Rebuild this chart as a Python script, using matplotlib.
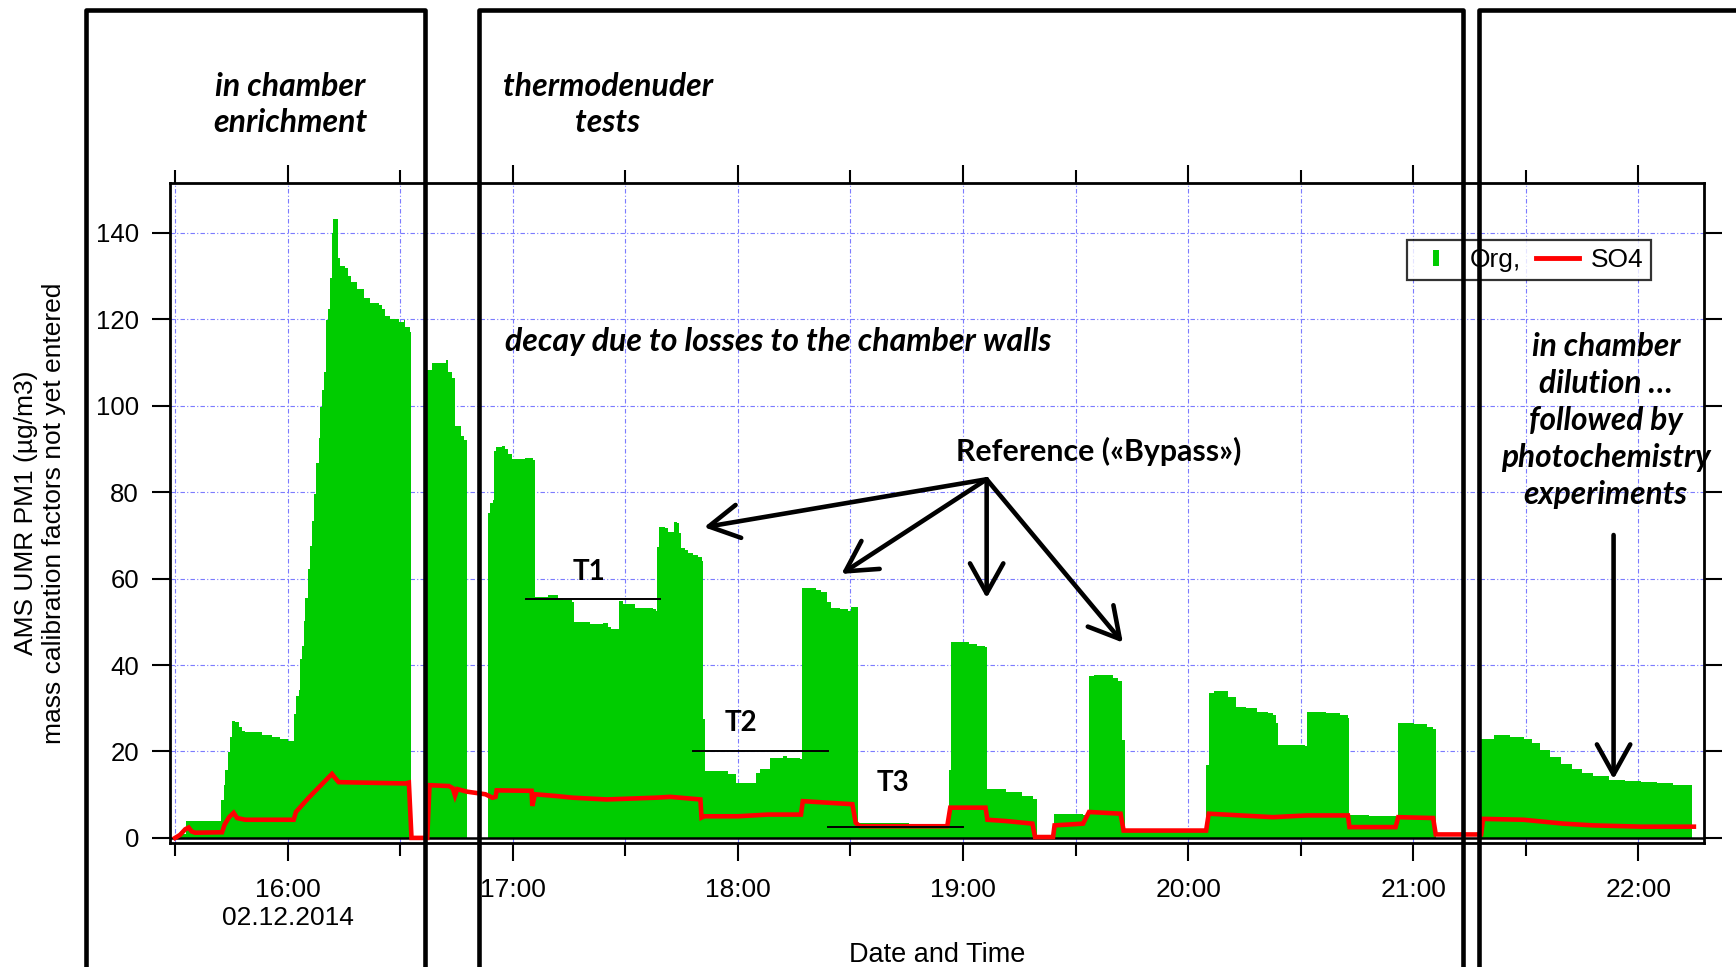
import matplotlib
matplotlib.use("Agg")
import matplotlib.pyplot as plt
from matplotlib.lines import Line2D
from matplotlib.patches import FancyArrowPatch, ArrowStyle
from matplotlib.ticker import FixedLocator, FixedFormatter, NullFormatter

# ---------------------------------------------------------------------------
# AMS UMR PM1 time series, 02.12.2014 (time = minutes after 15:00)
# ---------------------------------------------------------------------------
org_t = [31.0, 32.8, 42.3, 42.9, 43.4, 44.0, 44.5, 45.1, 46.0, 46.9, 47.8, 48.7,
         53.1, 55.8, 58.0, 60.2, 61.6, 62.2, 62.9, 63.4, 63.8, 64.3, 64.7, 65.4,
         65.9, 66.5, 67.1, 67.6, 68.3, 68.7, 69.1, 69.7, 70.2, 70.7, 71.2, 71.8,
         72.1, 73.3, 74.0, 75.4, 76.1, 76.8, 78.5, 80.4, 82.0, 84.3, 85.2, 86.0,
         87.4, 89.6, 90.9, 91.4, 92.7, 93.0,
         97.2, 98.5, 102.1, 102.8, 103.7, 104.7, 106.1, 107.0, 107.8,
         113.4, 114.0, 114.6, 115.0, 115.5, 117.1, 117.8, 118.8, 119.7, 122.8,
         123.3, 125.5, 125.8, 129.5, 132.1, 133.5, 135.9, 136.4, 140.6, 144.1,
         145.4, 146.3, 148.1, 148.3, 149.4, 152.5, 157.4, 158.3, 158.5, 159.0,
         160.5, 161.4, 162.9, 163.8, 164.2, 164.8, 165.8, 166.7, 168.0, 169.4,
         170.3, 170.8, 171.3, 177.4, 179.6, 184.7, 185.9, 188.5, 192.0, 193.0,
         196.6, 197.1, 200.7, 202.2, 203.7, 204.8, 207.3, 209.3, 210.1, 211.9,
         225.6, 235.8, 236.2, 236.7, 241.6, 243.7, 245.8, 246.5, 251.5, 255.8,
         258.6, 259.6, 264.3, 272.1, 273.6, 275.0, 277.8, 280.0, 281.4, 282.5,
         283.1, 304.8, 305.5, 307.0, 310.5, 312.7, 315.5, 318.3, 321.2, 322.6,
         323.3, 324.0, 331.1, 331.6, 336.8, 340.4, 342.5, 342.9, 348.2, 355.3,
         356.0, 360.3, 363.8, 365.3, 366.0, 378.1, 381.6, 385.9, 389.4, 391.6,
         393.7, 396.5, 399.4, 402.2, 405.1, 407.9, 412.2, 416.4, 420.7, 425.0,
         429.3, 434.2]
org_v = [0.8, 3.8, 8.8, 12.2, 15.6, 19.9, 23.3, 27.1, 26.8, 25.7, 24.7, 24.5,
         23.8, 23.3, 22.8, 22.5, 28.6, 32.9, 34.3, 41.5, 44.4, 50.2, 55.5, 62.2,
         67.5, 73.3, 79.5, 86.7, 92.5, 99.7, 103.6, 107.9, 119.9, 122.3, 129.5, 140.1,
         143.2, 134.3, 132.4, 131.9, 130.0, 128.6, 127.1, 124.9, 123.9, 123.3, 122.3, 120.9,
         120.1, 119.4, 119.9, 118.2, 117.0, 0.0,
         108.4, 110.0, 110.5, 107.9, 106.4, 95.4, 93.0, 92.2, 0.0,
         75.2, 77.5, 78.3, 89.5, 90.5, 90.7, 89.9, 88.8, 87.8, 87.6,
         88.0, 87.4, 55.8, 56.2, 55.4, 55.0, 54.7, 50.0, 49.6, 49.8,
         48.7, 48.4, 48.3, 54.8, 54.1, 53.1, 52.9, 52.6, 67.4, 71.9,
         71.7, 70.9, 73.0, 72.8, 70.5, 67.0, 66.7, 66.0, 65.5, 65.1,
         64.0, 27.5, 15.5, 14.9, 12.8, 15.1, 15.9, 18.6, 19.0, 18.5,
         18.2, 57.8, 57.4, 57.0, 54.7, 53.1, 52.9, 52.6, 53.5, 3.5,
         3.3, 3.1, 15.7, 45.3, 44.9, 44.3, 44.2, 11.4, 10.6, 9.8,
         9.1, 0.0, 5.6, 5.2, 37.4, 37.8, 37.6, 37.0, 36.4, 22.6,
         1.5, 16.8, 33.5, 33.9, 32.7, 30.4, 30.0, 29.2, 28.8, 28.4,
         26.5, 21.5, 21.2, 29.2, 28.8, 28.4, 27.7, 5.2, 5.0, 4.8,
         26.5, 26.4, 25.7, 25.3, 0.0, 23.0, 23.8, 23.4, 22.9, 21.9,
         20.3, 18.8, 17.2, 16.0, 15.0, 14.3, 13.3, 13.1, 12.9, 12.6,
         12.3, 0.0]

so4_t = [30.0, 31.3, 32.7, 33.6, 34.4, 35.3, 42.5, 43.2, 44.4, 45.6, 46.5, 48.7,
         61.6, 62.2, 65.6, 69.1, 71.8, 72.7, 73.6, 91.4, 92.3, 93.0, 97.2, 97.8,
         103.0, 104.0, 104.6, 105.2, 107.8, 112.7, 114.6, 115.4, 115.7, 125.0,
         125.2, 125.9, 131.5, 136.0, 145.0, 158.0, 162.0, 170.0, 170.3, 171.0,
         180.0, 188.0, 196.8, 197.3, 210.5, 211.4, 212.5, 235.8, 236.6, 246.0,
         246.5, 251.5, 258.5, 259.2, 264.0, 264.4, 272.0, 273.6, 282.0, 282.8,
         304.8, 305.5, 322.6, 331.6, 342.6, 343.0, 355.3, 356.0, 365.3, 366.0,
         378.1, 378.6, 389.4, 400.0, 407.9, 420.7, 434.8]
so4_v = [0.0, 0.7, 2.0, 2.4, 1.5, 1.2, 1.3, 3.1, 4.8, 5.8, 4.6, 4.2,
         4.2, 6.0, 9.3, 12.4, 14.8, 13.8, 12.9, 12.6, 12.8, 0.0, 0.0, 12.2,
         12.0, 11.5, 9.8, 11.3, 10.7, 10.1, 9.3, 9.5, 11.0, 10.9,
         7.4, 10.1, 9.7, 9.3, 8.9, 9.3, 9.5, 8.9, 4.7, 5.0,
         5.0, 5.4, 5.4, 8.5, 7.8, 3.5, 2.7, 2.7, 7.0, 7.0,
         4.2, 3.9, 3.3, 0.2, 0.2, 2.9, 3.3, 6.0, 5.6, 1.7,
         1.7, 5.6, 4.8, 5.2, 5.2, 2.5, 2.5, 4.8, 4.6, 0.8,
         0.8, 4.4, 4.2, 3.3, 2.9, 2.6, 2.6]

hour_ticks = [60, 120, 180, 240, 300, 360, 420]
hour_labels = ["16:00\n02.12.2014", "17:00", "18:00", "19:00", "20:00", "21:00", "22:00"]
half_hour_ticks = [30, 90, 150, 210, 270, 330, 390]
y_ticks = [0, 20, 40, 60, 80, 100, 120, 140]

# thermodenuder temperature steps (start, end, level)
td_names = ["T1", "T2", "T3"]
td_start = [123.5, 168.1, 204.1]
td_end = [159.2, 204.1, 240.1]
td_level = [55.2, 20.0, 2.6]

# reference (bypass) periods pointed at from one label
ref_origin = (246.3, 83.0)
ref_tips = [(171.0, 71.9), (207.6, 61.1), (246.3, 55.5), (282.6, 45.2)]

GREEN = "#00cc00"
RED = "#ff0000"
GRID = "#7b7bff"
SANS = ["Liberation Sans", "DejaVu Sans"]
CAL = ["Lato", "DejaVu Sans"]

W, H = 1736, 967
fig = plt.figure(figsize=(W / 100, H / 100), dpi=100)
ax_l, ax_r, ax_t, ax_b = 169.5, 1704.0, 183.3, 843.3
ax = fig.add_axes([ax_l / W, 1 - ax_b / H, (ax_r - ax_l) / W, (ax_b - ax_t) / H])

ax.fill_between(org_t, org_v, 0, step="post", color=GREEN, lw=0, zorder=2)
ax.axhline(0, color="black", lw=1.8, zorder=3)
ax.plot(so4_t, so4_v, color=RED, lw=3.3, zorder=4, solid_joinstyle="miter")

ax.set_xlim(28.5, 437.5)
ax.set_ylim(-1.25, 151.5)

ax.xaxis.set_major_locator(FixedLocator(hour_ticks))
ax.xaxis.set_major_formatter(FixedFormatter(hour_labels))
ax.xaxis.set_minor_locator(FixedLocator(half_hour_ticks))
ax.xaxis.set_minor_formatter(NullFormatter())
ax.yaxis.set_major_locator(FixedLocator(y_ticks))

ax.tick_params(axis="x", which="major", direction="out", length=13, width=1.5,
               top=True, bottom=True, pad=12, labelsize=19)
ax.tick_params(axis="x", which="minor", direction="out", length=9.5, width=1.5,
               top=True, bottom=True)
ax.tick_params(axis="y", which="major", direction="out", length=13, width=1.5,
               left=True, right=True, pad=9, labelsize=18.5)
for lab in ax.get_xticklabels() + ax.get_yticklabels():
    lab.set_family(SANS)
for sp in ax.spines.values():
    sp.set_linewidth(2.0)

ax.grid(True, which="both", axis="x", color=GRID, lw=0.8, ls=(0, (4, 2, 1, 2)))
ax.grid(True, which="major", axis="y", color=GRID, lw=0.8, ls=(0, (4, 2, 1, 2)))
ax.set_axisbelow(True)

# axis titles
fig.text(40 / W, 1 - 513 / H,
         "AMS UMR PM1 (\u00b5g/m3)\nmass calibration factors not yet entered",
         rotation=90, ha="center", va="center", multialignment="center",
         fontsize=19, family=SANS, linespacing=1.25)
fig.text(936.8 / W, 1 - 955 / H, "Date and Time", ha="center", va="center",
         fontsize=19.5, family=SANS)

# legend
org_handle = Line2D([], [], ls="none", marker="|", ms=11.5, mew=4.3, color=GREEN)
so4_handle = Line2D([], [], color=RED, lw=3.5)
leg = ax.legend([org_handle, so4_handle], ["Org,", "SO4"], ncol=2,
                loc="upper right", bbox_to_anchor=(0.9655, 0.9136),
                prop={"family": SANS, "size": 19}, frameon=True, fancybox=False,
                edgecolor="black", handlelength=1.6, handletextpad=0.45,
                columnspacing=0.6, borderpad=0.3, borderaxespad=0)
leg.get_frame().set_linewidth(1.6)
leg.set_zorder(6)

# thermodenuder steps
for name, t0, t1, lev in zip(td_names, td_start, td_end, td_level):
    ax.plot([t0, t1], [lev, lev], color="black", lw=1.4, zorder=5)
ax.text(140.3, 61.6, td_names[0], ha="center", va="center", fontsize=20,
        fontweight="bold", family=CAL, zorder=6)
ax.text(180.8, 26.5, td_names[1], ha="center", va="center", fontsize=20,
        fontweight="bold", family=CAL, zorder=6)
ax.text(221.2, 12.6, td_names[2], ha="center", va="center", fontsize=20,
        fontweight="bold", family=CAL, zorder=6)

# annotations
ax.text(117.9, 114.8, "decay due to losses to the chamber walls", ha="left",
        va="center", fontsize=23, fontweight="bold", style="italic", family=CAL,
        zorder=6)
ax.text(238.0, 89.4, "Reference (\u00abBypass\u00bb)", ha="left", va="center",
        fontsize=21.8, fontweight="bold", family=CAL, zorder=6)
ax.text(411.3, 96.6,
        "in chamber\ndilution \u2026\nfollowed by\nphotochemistry\nexperiments",
        ha="center", va="center", multialignment="center", fontsize=22.8,
        fontweight="bold", style="italic", family=CAL, linespacing=1.34, zorder=6)

arrow_style = ArrowStyle("->", head_length=0.9, head_width=0.5)
for tip in ref_tips:
    ax.add_patch(FancyArrowPatch(ref_origin, tip, arrowstyle=arrow_style,
                                 mutation_scale=24, lw=3.3, color="black",
                                 shrinkA=0, shrinkB=0, zorder=7,
                                 capstyle="round", joinstyle="round"))
ax.add_patch(FancyArrowPatch((413.4, 70.1), (413.4, 13.6), arrowstyle=arrow_style,
                             mutation_scale=24, lw=3.3, color="black",
                             shrinkA=0, shrinkB=0, zorder=7))

# experiment phase frames (figure coordinates)
box_top = 1 - 10 / H
phases = [(86, 425, "in chamber\nenrichment", 290),
          (479, 1462.7, "thermodenuder\ntests", 608),
          (1478.7, 1760, None, None)]
for x0, x1, label, xc in phases:
    fig.add_artist(Line2D([x0 / W, x0 / W, x1 / W, x1 / W],
                          [-0.05, box_top, box_top, -0.05],
                          transform=fig.transFigure, color="black", lw=3.3,
                          solid_joinstyle="round", zorder=10))
    if label:
        fig.text(xc / W, 1 - 104.5 / H, label, ha="center", va="center",
                 multialignment="center", fontsize=23, fontweight="bold",
                 style="italic", family=CAL, linespacing=1.33)

fig.savefig("out.png", dpi=100)
